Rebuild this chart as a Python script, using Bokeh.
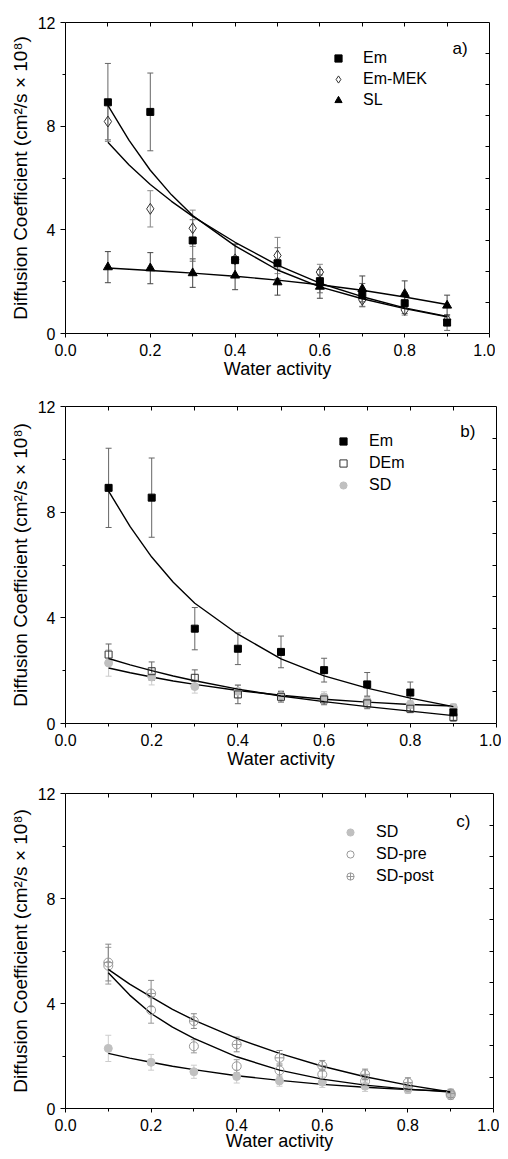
from bokeh.plotting import figure
from bokeh.models import (Range1d, LinearAxis, FixedTicker, PrintfTickFormatter, CustomJSTickFormatter,
                          Whisker, TeeHead, ColumnDataSource, Legend, LegendItem, Label)
from bokeh.layouts import column
from bokeh.embed import file_html
from bokeh.resources import INLINE

# ---------------- data ----------------
aw = [0.1, 0.2, 0.3, 0.4, 0.5, 0.6, 0.7, 0.8, 0.9]
fit_aw = [0.1, 0.15, 0.2, 0.25, 0.3, 0.4, 0.5, 0.6, 0.7, 0.8, 0.9]

em = [8.92, 8.55, 3.59, 2.83, 2.71, 2.02, 1.48, 1.17, 0.42]
em_err = [1.5, 1.5, 0.8, 0.6, 0.6, 0.45, 0.45, 0.4, 0.3]
em_fit = [8.80, 7.45, 6.30, 5.35, 4.55, 3.38, 2.45, 1.80, 1.34, 0.96, 0.64]

em_mek = [8.18, 4.81, 4.06, 2.86, 3.01, 2.37, 1.30, 0.91, 0.53]
em_mek_err = [0.7, 0.7, 0.7, 0.6, 0.7, 0.3, 0.25, 0.2, 0.2]
em_mek_fit = [7.38, 6.50, 5.75, 5.10, 4.52, 3.52, 2.64, 1.94, 1.42, 0.99, 0.66]

sl = [2.56, 2.52, 2.33, 2.24, 1.98, 1.81, 1.72, 1.53, 1.08]
sl_err = [0.6, 0.6, 0.55, 0.55, 0.5, 0.45, 0.5, 0.5, 0.4]
sl_fit = [2.53, 2.48, 2.43, 2.38, 2.33, 2.21, 2.06, 1.88, 1.67, 1.41, 1.12]

dem = [2.61, 1.98, 1.73, 1.10, 1.01, 0.91, 0.76, 0.56, 0.24]
dem_err = [0.4, 0.35, 0.3, 0.35, 0.2, 0.2, 0.2, 0.15, 0.15]
dem_fit = [2.46, 2.22, 2.00, 1.80, 1.62, 1.30, 1.04, 0.83, 0.64, 0.47, 0.30]

sd = [2.29, 1.76, 1.40, 1.22, 1.05, 1.00, 0.85, 0.72, 0.60]
sd_err = [0.5, 0.3, 0.25, 0.25, 0.2, 0.2, 0.2, 0.15, 0.15]
sd_fit = [2.10, 1.92, 1.76, 1.61, 1.48, 1.25, 1.07, 0.92, 0.81, 0.72, 0.66]

sd_pre = [5.44, 3.75, 2.37, 1.61, 1.45, 1.30, 1.04, 0.83, 0.51]
sd_pre_err = [0.7, 0.5, 0.25, 0.25, 0.25, 0.2, 0.2, 0.15, 0.15]
sd_pre_fit = [5.17, 4.32, 3.62, 3.10, 2.67, 1.97, 1.46, 1.12, 0.89, 0.74, 0.63]

sd_post = [5.56, 4.38, 3.33, 2.44, 1.93, 1.63, 1.30, 0.99, 0.57]
sd_post_err = [0.7, 0.5, 0.28, 0.28, 0.28, 0.2, 0.2, 0.18, 0.15]
sd_post_fit = [5.30, 4.74, 4.25, 3.78, 3.37, 2.67, 2.10, 1.61, 1.21, 0.89, 0.63]

x_major = [0.0, 0.2, 0.4, 0.6, 0.8, 1.0]
x_minor = [0.1, 0.3, 0.5, 0.7, 0.9]
y_major = [0, 4, 8, 12]
y_minor = [2, 6, 10]

FONT = "Liberation Sans"
YLABEL = "Diffusion Coefficient (cm\u00b2/s \u00d7 10\u2078)"
XLABEL = "Water activity"


def make_fig(frame_w, frame_h, b_left, b_top, xlab_standoff):
    p = figure(frame_width=frame_w, frame_height=frame_h,
               x_range=Range1d(0, 1), y_range=Range1d(0, 12),
               output_backend="svg", toolbar_location=None,
               min_border_left=b_left, min_border_top=b_top,
               min_border_bottom=0, min_border_right=6)
    p.grid.visible = False
    p.outline_line_color = None
    p.background_fill_color = "white"
    p.border_fill_color = "white"

    xa = p.xaxis[0]
    xa.ticker = FixedTicker(ticks=x_major, minor_ticks=x_minor)
    xa.formatter = PrintfTickFormatter(format="%.1f")
    xa.axis_label = XLABEL
    xa.axis_label_text_font = FONT
    xa.axis_label_text_font_size = "18px"
    xa.axis_label_text_font_style = "normal"
    xa.axis_label_text_color = "black"
    xa.axis_label_standoff = xlab_standoff
    xa.major_label_text_font = FONT
    xa.major_label_text_font_size = "16px"
    xa.major_label_text_color = "black"
    xa.major_label_standoff = 6
    xa.major_tick_out = 4
    xa.major_tick_in = 0
    xa.minor_tick_out = 3
    xa.minor_tick_in = 0
    xa.axis_line_color = "black"
    xa.major_tick_line_color = "black"
    xa.minor_tick_line_color = "black"

    ya = p.yaxis[0]
    ya.ticker = FixedTicker(ticks=y_major, minor_ticks=y_minor)
    ya.formatter = PrintfTickFormatter(format="%d")
    ya.axis_label = YLABEL
    ya.axis_label_text_font = FONT
    ya.axis_label_text_font_size = "19px"
    ya.axis_label_text_font_style = "normal"
    ya.axis_label_text_color = "black"
    ya.axis_label_standoff = 4
    ya.major_label_text_font = FONT
    ya.major_label_text_font_size = "16px"
    ya.major_label_text_color = "black"
    ya.major_label_standoff = 5
    ya.major_tick_out = 5
    ya.major_tick_in = 0
    ya.minor_tick_out = 3
    ya.minor_tick_in = 0
    ya.axis_line_color = "black"
    ya.major_tick_line_color = "black"
    ya.minor_tick_line_color = "black"

    blank = CustomJSTickFormatter(code="return ''")
    top = LinearAxis(ticker=FixedTicker(ticks=[0.2, 0.4, 0.6, 0.8], minor_ticks=x_minor),
                     formatter=blank, major_tick_in=4, major_tick_out=0,
                     minor_tick_in=4, minor_tick_out=0, major_label_standoff=0,
                     axis_line_color="black", major_tick_line_color="black",
                     minor_tick_line_color="black")
    p.add_layout(top, "above")

    p.extra_y_ranges = {"r": Range1d(0, 10)}
    right = LinearAxis(y_range_name="r", ticker=FixedTicker(ticks=[1, 2, 3, 4, 5, 6, 7, 8, 9]),
                       formatter=blank, major_tick_in=4, major_tick_out=0,
                       minor_tick_line_color=None, major_label_standoff=0,
                       axis_line_color="black", major_tick_line_color="black")
    p.add_layout(right, "right")
    return p


def add_series(p, y, err, fit, marker, size, fill, line, ecolor):
    src = ColumnDataSource(dict(x=aw, y=y,
                                u=[a + b for a, b in zip(y, err)],
                                l=[a - b for a, b in zip(y, err)]))
    w = Whisker(base="x", upper="u", lower="l", source=src, line_color=ecolor, line_width=1,
                upper_head=TeeHead(size=6, line_color=ecolor, line_width=1),
                lower_head=TeeHead(size=6, line_color=ecolor, line_width=1))
    p.add_layout(w)
    p.line(fit_aw, fit, line_color="black", line_width=1.4)
    r = p.scatter("x", "y", source=src, marker=marker, size=size,
                  fill_color=fill, line_color=line, line_width=1)
    return r


def add_legend(p, items, vx, vy, standoff, spacing):
    lg = Legend(items=[LegendItem(label=t, renderers=[r]) for t, r in items],
                location=(vx, vy), border_line_color=None, background_fill_alpha=0,
                label_text_font=FONT, label_text_font_size="16px", label_text_color="black",
                glyph_width=18, glyph_height=18, label_height=20, label_standoff=standoff,
                spacing=spacing, padding=0, margin=0)
    p.add_layout(lg)


def add_tag(p, text, x, y):
    p.add_layout(Label(x=x, y=y, text=text, text_font=FONT, text_font_size="17px",
                       text_color="black", text_baseline="middle", text_align="left"))


# ---------------- panel a ----------------
pa = make_fig(424, 311, 65, 22, 0)
r1 = add_series(pa, sl, sl_err, sl_fit, "triangle", 9, "black", "black", "#444444")
r2 = add_series(pa, em_mek, em_mek_err, em_mek_fit, "diamond", 11, None, "#333333", "#888888")
r3 = add_series(pa, em, em_err, em_fit, "square", 7, "black", "black", "#666666")
add_legend(pa, [("Em", r3), ("Em-MEK", r2), ("SL", r1)], 264, 223, 16, 1)
add_tag(pa, "a)", 0.913, 11.0)

# ---------------- panel b ----------------
pb = make_fig(431, 317, 64, 25, 0)
s1 = add_series(pb, sd, sd_err, sd_fit, "circle", 8, "#c0c0c0", "#c0c0c0", "#cccccc")
s2 = add_series(pb, dem, dem_err, dem_fit, "square", 7, None, "#333333", "#666666")
s3 = add_series(pb, em, em_err, em_fit, "square", 7, "black", "black", "#666666")
add_legend(pb, [("Em", s3), ("DEm", s2), ("SD", s1)], 269, 228, 17, 2)
add_tag(pb, "b)", 0.916, 11.05)

# ---------------- panel c ----------------
pc = make_fig(428, 315, 65, 22, -3)
t1 = add_series(pc, sd, sd_err, sd_fit, "circle", 8, "#c0c0c0", "#c0c0c0", "#cccccc")
t2 = add_series(pc, sd_pre, sd_pre_err, sd_pre_fit, "circle", 9, None, "#999999", "#999999")
t3 = add_series(pc, sd_post, sd_post_err, sd_post_fit, "circle_cross", 9, None, "#999999", "#888888")
add_legend(pc, [("SD", t1), ("SD-pre", t2), ("SD-post", t3)], 276, 222, 17, 2)
add_tag(pc, "c)", 0.913, 10.95)

layout = column(pa, pb, pc, spacing=0)
open("out.html", "w").write(file_html(layout, INLINE))
